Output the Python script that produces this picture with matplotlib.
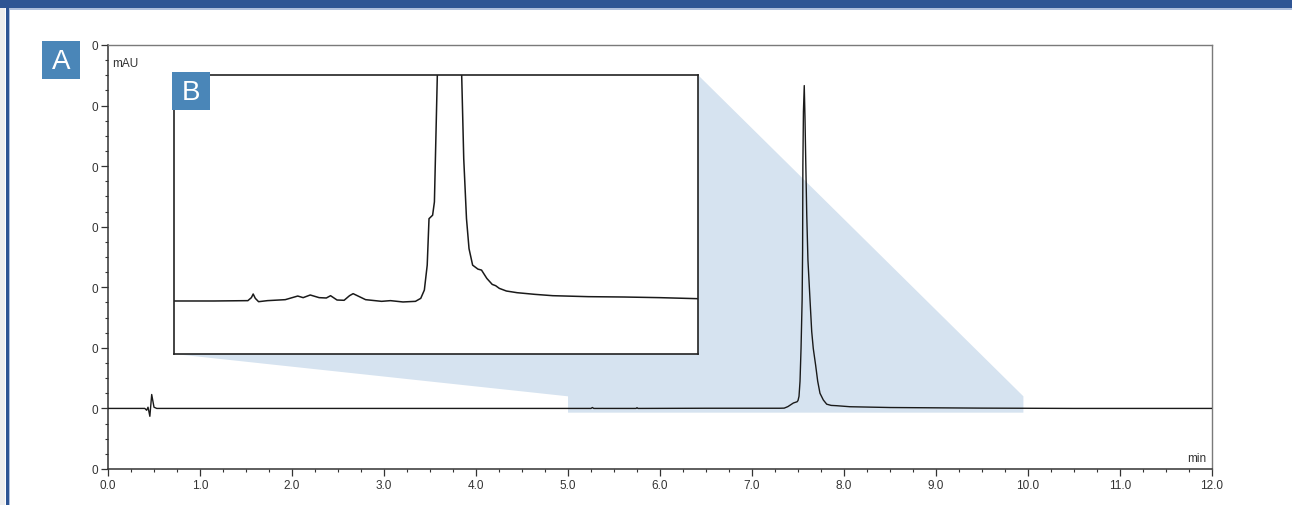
import matplotlib
matplotlib.use("Agg")
import matplotlib.pyplot as plt
from matplotlib.patches import Rectangle, Polygon
from matplotlib.ticker import MultipleLocator, FixedLocator, FixedFormatter

plt.rcParams['font.family'] = ['Liberation Sans', 'DejaVu Sans']

# ---------------- data ----------------
# main chromatogram (time in min, signal in mAU-like units, baseline = 0)
main_time = [0.0, 0.40, 0.42, 0.435, 0.455, 0.475, 0.50, 0.53, 0.7, 2.0, 3.0, 4.0, 5.0,
             5.25, 5.265, 5.28, 5.74, 5.75, 5.76, 6.5, 7.30, 7.35, 7.39, 7.43, 7.45,
             7.49, 7.50, 7.511, 7.522, 7.533, 7.545, 7.55, 7.553, 7.559, 7.568,
             7.576, 7.584, 7.595, 7.608, 7.63, 7.649, 7.666, 7.692, 7.714, 7.739,
             7.775, 7.812, 7.86, 7.92, 8.065, 8.5, 9.5, 10.5, 12.0]
main_signal = [0, 0, -3, 2, -13, 23, 2, 0, 0, 0, 0, 0, 0,
               0, 1.5, 0, 0, 1.2, 0, 0.3, 0.3, 0.5, 3, 7, 9,
               11, 13, 20, 45, 99, 180, 260, 400, 490, 533,
               480, 410, 320, 245, 181, 127, 99, 71, 45, 25,
               14, 7, 5, 4.5, 2.8, 1.5, 0.5, 0, 0]

# magnified view (inset B)
inset_time = [5.0, 5.377, 5.698, 5.731, 5.748, 5.768, 5.799, 5.883, 6.051, 6.169, 6.220,
              6.287, 6.371, 6.439, 6.479, 6.540, 6.607, 6.658, 6.692, 6.732, 6.810,
              6.961, 7.045, 7.163, 7.281, 7.331, 7.365, 7.392, 7.409, 7.443, 7.460,
              7.49, 7.568, 7.715, 7.737, 7.763, 7.787, 7.821, 7.871, 7.905, 7.955,
              8.006, 8.039, 8.073, 8.140, 8.241, 8.410, 8.578, 8.915, 9.252, 9.588, 9.950]
inset_signal = [0, 0, 0.05, 0.48, 1.0, 0.38, -0.1, 0.05, 0.19, 0.71, 0.48,
                0.86, 0.48, 0.43, 0.76, 0.14, 0.1, 0.76, 1.05, 0.76, 0.19,
                -0.05, 0.05, -0.14, -0.05, 0.38, 1.57, 5.14, 11.8, 12.3, 14.2,
                34, 533, 34, 20.4, 11.8, 7.5, 5.14, 4.57, 4.43, 3.24,
                2.38, 2.19, 1.81, 1.43, 1.19, 0.95, 0.76, 0.62, 0.57, 0.48, 0.33]

x_ticks = [0, 1, 2, 3, 4, 5, 6, 7, 8, 9, 10, 11, 12]
x_tick_labels = ["0.0", "1.0", "2.0", "3.0", "4.0", "5.0", "6.0", "7.0", "8.0",
                 "9.0", "10.0", "11.0", "12.0"]
y_ticks = [-100, 0, 100, 200, 300, 400, 500, 600]
y_tick_labels = ["0", "0", "0", "0", "0", "0", "0", "0"]

zoom_time = [5.0, 9.95]      # magnified window on the main trace
zoom_signal = [-7, 20]
inset_ylim = [-7.6, 32.4]

# ---------------- figure ----------------
W, H = 1292, 506
fig = plt.figure(figsize=(W / 100, H / 100), dpi=100)
fig.patch.set_facecolor('white')

def fx(px):
    return px / W

def fy(py):
    return 1 - py / H

# frame decorations: header bar and left border
fig.add_artist(Rectangle((0, fy(9)), 1, 9 / H, transform=fig.transFigure,
                         facecolor='#2e5594', edgecolor='none', zorder=0))
fig.add_artist(Rectangle((fx(9), fy(10.5)), 1, 1.5 / H, transform=fig.transFigure,
                         facecolor='#aebfdc', edgecolor='none', zorder=0))
fig.add_artist(Rectangle((0, 0), fx(5), fy(9), transform=fig.transFigure,
                         facecolor='#eeeeee', edgecolor='none', zorder=0))
fig.add_artist(Rectangle((fx(5.5), 0), fx(3.5), fy(9), transform=fig.transFigure,
                         facecolor='#2e5594', edgecolor='none', zorder=0))
fig.add_artist(Rectangle((fx(9), 0), fx(1.2), fy(10.5), transform=fig.transFigure,
                         facecolor='#aebfdc', edgecolor='none', zorder=0))

# main axes
ax = fig.add_axes([fx(108), fy(470), fx(1212) - fx(108), fy(46) - fy(470)])
ax.plot(main_time, main_signal, color='#1a1a1a', lw=1.0, zorder=3)
ax.set_xlim(0, 12)
ax.set_ylim(-100, 600)
ax.xaxis.set_major_locator(FixedLocator(x_ticks))
ax.xaxis.set_major_formatter(FixedFormatter(x_tick_labels))
ax.xaxis.set_minor_locator(MultipleLocator(0.25))
ax.yaxis.set_major_locator(FixedLocator(y_ticks))
ax.yaxis.set_major_formatter(FixedFormatter(y_tick_labels))
ax.yaxis.set_minor_locator(MultipleLocator(25))
ax.tick_params(axis='both', which='major', direction='out', length=5, width=0.9,
               color='#333333', labelsize=8.5, labelcolor='#333333', pad=2)
ax.tick_params(axis='both', which='minor', direction='out', length=2.5, width=0.8,
               color='#333333')
for side in ['left', 'bottom']:
    ax.spines[side].set_color('#333333')
    ax.spines[side].set_linewidth(1.1)
for side in ['top', 'right']:
    ax.spines[side].set_color('#7a7a7a')
    ax.spines[side].set_linewidth(1.0)
ax.text(0.004, 0.972, 'mAU', transform=ax.transAxes, fontsize=8.5, color='#333333',
        ha='left', va='top')
ax.text(0.995, 0.012, 'min', transform=ax.transAxes, fontsize=8.5, color='#333333',
        ha='right', va='bottom')

# inset axes
axin = fig.add_axes([fx(174), fy(355), fx(698) - fx(174), fy(76) - fy(355)])
axin.plot(inset_time, inset_signal, color='#1a1a1a', lw=1.1)
axin.set_xlim(zoom_time[0], zoom_time[1])
axin.set_ylim(inset_ylim[0], inset_ylim[1])
axin.set_xticks([])
axin.set_yticks([])
for side in axin.spines:
    axin.spines[side].set_color('#222222')
    axin.spines[side].set_linewidth(1.2)
axin.set_zorder(4)

# shaded projection polygon (main data coords)
fig.canvas.draw()
to_data = ax.transData.inverted()
def inset_corner(u, v):
    disp = axin.transAxes.transform((u, v))
    return tuple(to_data.transform(disp))

poly_pts = [inset_corner(0, 0),
            (zoom_time[0], zoom_signal[1]),
            (zoom_time[0], zoom_signal[0]),
            (zoom_time[1], zoom_signal[0]),
            (zoom_time[1], zoom_signal[1]),
            inset_corner(1, 1),
            inset_corner(1, 0)]
ax.add_patch(Polygon(poly_pts, closed=True, facecolor='#d6e3f0', edgecolor='none',
                     zorder=1))

# panel labels
label_color = '#4a86b8'
fig.add_artist(Rectangle((fx(42), fy(80)), fx(80) - fx(42), fy(42) - fy(80),
                         transform=fig.transFigure, facecolor=label_color,
                         edgecolor='none', zorder=10))
fig.text(fx(61), fy(62), 'A', color='white', fontsize=20, ha='center', va='center',
         zorder=11)
fig.add_artist(Rectangle((fx(172), fy(111)), fx(210) - fx(172), fy(73) - fy(111),
                         transform=fig.transFigure, facecolor=label_color,
                         edgecolor='none', zorder=10))
fig.text(fx(191), fy(93), 'B', color='white', fontsize=20, ha='center', va='center',
         zorder=11)

fig.savefig('out.png', dpi=100)
